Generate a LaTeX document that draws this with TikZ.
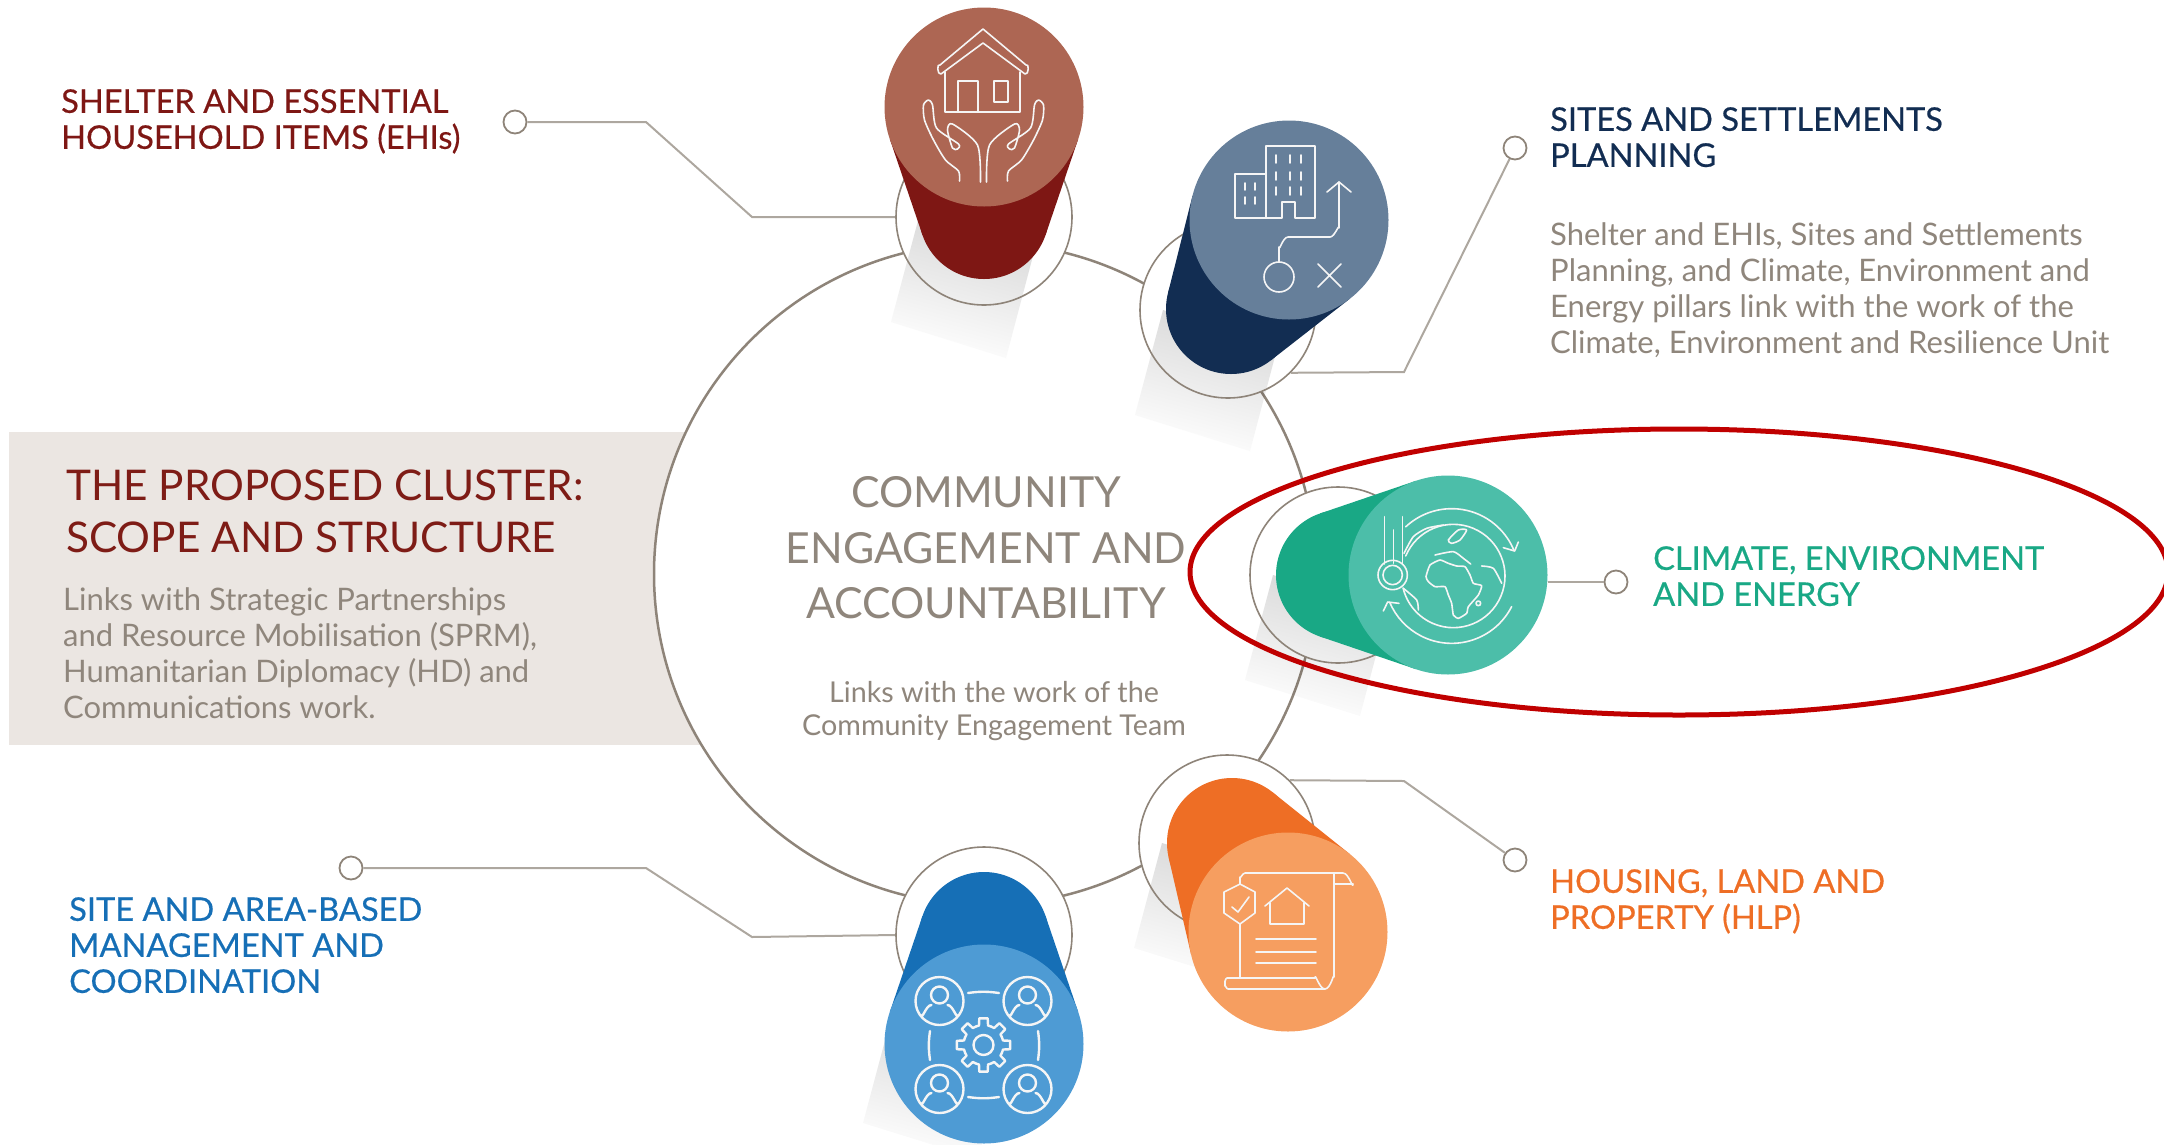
\documentclass[tikz,border=0pt]{standalone}
\usepackage{fontspec}
\setmainfont{Lato}
\newfontfamily\pillarfam[FakeBold=0.5]{Lato}
\usetikzlibrary{calc, positioning}
\definecolor{hubline}{HTML}{8E8479}
\definecolor{thinline}{HTML}{ADA79F}
\definecolor{greytext}{HTML}{8F867C}
\definecolor{boxfill}{HTML}{EBE6E2}
\definecolor{clusterred}{HTML}{7E1C16}
\definecolor{redline}{HTML}{C00000}
\definecolor{shelterdark}{HTML}{7E1714}
\definecolor{shelterlite}{HTML}{AD6653}
\definecolor{sitesdark}{HTML}{122D52}
\definecolor{siteslite}{HTML}{667F9A}
\definecolor{climatedark}{HTML}{19A885}
\definecolor{climatelite}{HTML}{4CBEA9}
\definecolor{housingdark}{HTML}{EE6E25}
\definecolor{housinglite}{HTML}{F69E60}
\definecolor{areadark}{HTML}{166FB6}
\definecolor{arealite}{HTML}{4E9BD4}
\newcommand{\hdfont}{\pillarfam\fontsize{32.6}{36}\selectfont}
\newcommand{\txfont}{\fontsize{31}{36}\selectfont}
\pgfdeclareverticalshading{shadowfade}{100bp}{color(0bp)=(white); color(24bp)=(white); color(70bp)=(black!14); color(100bp)=(black!14)}

\begin{document}
\begin{tikzpicture}[
    x=1pt, y=-1pt,
    node distance = 16pt and 16pt,
    ring/.style = {circle, draw=hubline, line width=1.6pt, minimum size=176pt, inner sep=0pt},
    head/.style = {circle, minimum size=199pt, inner sep=0pt},
    dotend/.style = {circle, draw=hubline, line width=1.8pt, fill=white, minimum size=23pt, inner sep=0pt},
    pil/.style = {draw=thinline, line width=2pt},
    pillar/.style = {inner sep=0pt, anchor=north west, align=left, font=\hdfont},
    note/.style = {inner sep=0pt, align=left, text=greytext, font=\txfont},
    ico/.style = {draw=white!92!gray, line width=1.6pt, line cap=round, line join=round}
    ]

  \useasboundingbox (0,0) rectangle (2164,1144);

  % box and hub
  \fill[boxfill] (9,432) rectangle (720,745);
  \node[circle, draw=hubline, fill=white, line width=2.5pt, minimum size=662pt, inner sep=0pt] (hub) at (985,574) {};

  % rings, shadows, tails, heads
  \foreach \name/\rx/\ry/\tx/\ty/\hx/\hy/\sx/\sy in {
      shelter/984/217/984/214/984/107/0/0,
      sites/1228/310/1231/309/1289/220/0/0,
      climate/1338/575/1341/575/1448/575/0/0,
      housing/1227/843/1232/843/1288/932/0/0,
      area/984/935/984/937/984/1044/-28/83} {
    \fill[white] (\rx,\ry) circle (88);
    \shade[shading=shadowfade, shading angle=-15, blend mode=multiply]
      ($(\rx,\ry)+(\sx,\sy)+(-65,0)$) -- ++(-28,105) -- ++(115,36) -- ++(28,-106) -- cycle;
    \node[ring] (ring\name) at (\rx,\ry) {};
    \pgfmathsetmacro\dist{veclen(\tx-\hx,\ty-\hy)}
    \pgfmathsetmacro\axis{atan2(\ty-\hy,\tx-\hx)}
    \pgfmathsetmacro\open{acos(34.5/\dist)}
    \fill[\name dark] ($(\hx,\hy)+(\axis+\open:99.5)$) -- ($(\tx,\ty)+(\axis+\open:65)$)
      -- ($(\tx,\ty)+(\axis-\open:65)$) -- ($(\hx,\hy)+(\axis-\open:99.5)$) -- cycle;
    \fill[\name dark] (\tx,\ty) circle (65);
    \node[head, fill=\name lite] (head\name) at (\hx,\hy) {};
  }

  % end points and connectors
  \node[dotend] (dotshelter) at (515,122) {};
  \node[dotend] (dotsites) at (1515,148) {};
  \node[dotend] (dotclimate) at (1616,582) {};
  \node[dotend] (dothousing) at (1515,860) {};
  \node[dotend] (dotarea) at (351,868) {};

  \coordinate (shelterbendA) at (646,122);
  \coordinate (shelterbendB) at (752,217);
  \coordinate (sitesbend) at (1404,372);
  \coordinate (housingbend) at (1404,781);
  \coordinate (areabendA) at (646,868);
  \coordinate (areabendB) at (752,937);

  \draw[pil] (dotshelter) -- (shelterbendA) -- (shelterbendB) -- (ringshelter.west);
  \draw[pil] (dotsites) -- (sitesbend) -- (ringsites.-45);
  \draw[pil] (dotclimate) -- (dotclimate -| headclimate.east);
  \draw[pil] (dothousing) -- (housingbend) -- (ringhousing.45);
  \draw[pil] (dotarea) -- (areabendA) -- (areabendB) -- (ringarea.west);

  % texts
  \node[inner sep=0pt, align=left, text=clusterred, font=\fontsize{42.3}{52}\selectfont, anchor=north west] (cluster) at (66,470) {THE PROPOSED CLUSTER:\\SCOPE AND STRUCTURE};
  \node[note, anchor=north west] (clusternote) at (63,587) {Links with Strategic Partnerships\\and Resource Mobilisation (SPRM),\\Humanitarian Diplomacy (HD) and\\Communications work.};

  \node[inner sep=0pt, align=center, text=greytext, font=\fontsize{42.8}{55.5}\selectfont] (hubtitle) at (986,548) {COMMUNITY\\ENGAGEMENT AND\\ACCOUNTABILITY};
  \node[inner sep=0pt, align=center, text=greytext, font=\fontsize{28.7}{33}\selectfont] (hubnote) at (994,711) {Links with the work of the\\Community Engagement Team};

  \node[pillar, text=shelterdark] (shelter) at (61,89) {SHELTER AND ESSENTIAL\\HOUSEHOLD ITEMS (EHIs)};
  \node[pillar, text=sitesdark] (sites) at (1550,107) {SITES AND SETTLEMENTS\\PLANNING};
  \node[note, below=55pt of sites.south west, anchor=north west] (sitesnote) {Shelter and EHIs, Sites and Settlements\\Planning, and Climate, Environment and\\Energy pillars link with the work of the\\Climate, Environment and Resilience Unit};
  \node[pillar, text=climatedark] (climate) at (1653,546) {CLIMATE, ENVIRONMENT\\AND ENERGY};
  \node[pillar, text=housingdark] (housing) at (1550,869) {HOUSING, LAND AND\\PROPERTY (HLP)};
  \node[pillar, text=areadark] (area) at (69,897) {SITE AND AREA-BASED\\MANAGEMENT AND\\COORDINATION};

  % house in hands
  \draw[ico] (945,72) -- (945,112) -- (1020,112) -- (1020,72);
  \draw[ico] (958,112) -- (958,81) -- (978,81) -- (978,112);
  \draw[ico] (994,81) rectangle (1008,102);
  \draw[ico] (941,74) -- (983,43) -- (1025,74) to[out=-20,in=40,looseness=1.2] (1026,65) -- (983,29) -- (940,65) to[out=140,in=200,looseness=1.2] cycle;
  \foreach \s in {1,-1} {
    \begin{scope}[shift={(983.5,0)}, xscale=\s]
      \draw[ico] plot[smooth, tension=.45] coordinates {(-24,181) (-25,171) (-38,160) (-50,140) (-59,120) (-60,105) (-55,100) (-51,105) (-47,128) (-25,144) (-26,149) (-31,148) (-36,130) (-31,124) (-6,145) (-3,182)};
    \end{scope}
  }

  % buildings and route
  \draw[ico] (1282,218) -- (1266,218) -- (1266,146) -- (1315,146) -- (1315,218) -- (1295,218) -- (1295,202) -- (1282,202) -- cycle;
  \draw[ico] (1266,174) -- (1235,174) -- (1235,218) -- (1266,218);
  \foreach \wx in {1276,1290,1301} {
    \foreach \wy in {155,172,187} {
      \draw[ico] (\wx,\wy) -- ++(0,8);
    }
  }
  \foreach \wx in {1245,1255} {
    \foreach \wy in {183,197} {
      \draw[ico] (\wx,\wy) -- ++(0,7);
    }
  }
  \draw[ico] (1279,277) circle (15);
  \draw[ico] (1279,262) -- (1279,247) to[out=-90,in=180] (1288,237) -- (1330,237) to[out=0,in=90] (1339,228) -- (1339,182);
  \draw[ico] (1327,192) -- (1339,182) -- (1351,192);
  \draw[ico] (1318,264) -- (1341,287) (1341,264) -- (1318,287);

  % globe, thermometer
  \begin{scope}[shift={(1200,440)}, x=1pt/3, y=-1pt/3]
    \draw[ico] (760,408) ++(202.8:155) arc[start angle=202.8, end angle=526.6, radius=155];
    \draw[ico] (755,408) ++(227:202) arc[start angle=227, end angle=338, radius=202];
    \draw[ico] (910,323) -- (944,333) -- (955,306);
    \draw[ico] (755,408) ++(27:202) arc[start angle=27, end angle=157, radius=202];
    \draw[ico] (597,490) -- (563,486) -- (550,513);
    \draw[ico] (553,230) -- (553,372) (607,230) -- (607,372) (580,270) -- (580,370);
    \draw[ico] (578,405) circle (44) (578,405) circle (29);
    \draw[ico] plot[smooth cycle, tension=.3] coordinates {(678,410) (690,375) (720,360) (745,370) (770,378) (795,380) (810,405) (820,430) (845,437) (835,465) (805,500) (800,520) (775,535) (760,525) (755,490) (745,465) (735,440) (705,440) (685,425)};
    \draw[ico] plot[smooth, tension=.4] coordinates {(705,345) (760,335) (790,355) (812,372)};
    \draw[ico] plot[smooth, tension=.4] coordinates {(845,378) (880,385) (905,430)};
    \draw[ico] plot[smooth, tension=.4] coordinates {(612,340) (640,290) (680,265) (730,255)};
    \draw[ico] plot[smooth cycle, tension=.4] coordinates {(745,300) (775,270) (800,270) (780,300) (755,310)};
    \draw[ico] plot[smooth, tension=.4] coordinates {(610,445) (650,480) (655,510)};
    \draw[ico] (835,490) circle (7);
  \end{scope}

  % deed with house and shield
  \draw[ico] (1240,884) -- (1240,877) to[out=-90,in=180] (1245,873) -- (1343,873) to[out=0,in=-90] (1353,884) -- (1334,884) -- (1334,873);
  \draw[ico] (1334,884) -- (1334,977) to[out=90,in=0] (1325,989) to[out=180,in=90] (1315,978) -- (1227,978) to[out=180,in=-90] (1225,981) -- (1225,986) to[out=90,in=180] (1228,989) -- (1325,989);
  \draw[ico] (1240,924) -- (1240,978);
  \draw[ico] (1240,884) -- (1255,892) -- (1255,913) -- (1240,924) -- (1224,913) -- (1224,892) -- cycle;
  \draw[ico] (1232,907) -- (1238,912) -- (1249,897);
  \draw[ico] (1265,906) -- (1287,888) -- (1309,906) (1270,903) -- (1270,924) -- (1304,924) -- (1304,903);
  \foreach \ly in {939,952,963} {
    \draw[ico] (1256,\ly) -- (1316,\ly);
  }

  % people around a gear
  \foreach \px/\py in {939.5/1001, 1027.5/1001, 939.5/1089, 1027.5/1089} {
    \draw[ico, line width=2.4pt] (\px,\py) circle (24);
    \draw[ico, line width=2.4pt] (\px,\py-6) circle (8.5);
    \draw[ico, line width=2.4pt] (\px-19,\py+14) to[out=-70,in=180] (\px-8,\py+4) (\px+8,\py+4) to[out=0,in=-110] (\px+19,\py+14);
  }
  \draw[ico, line width=2.4pt] (968,993) to[bend left=8] (999,993);
  \draw[ico, line width=2.4pt] (968,1097) to[bend right=8] (999,1097);
  \draw[ico, line width=2.4pt] (930,1031) to[bend right=8] (930,1060);
  \draw[ico, line width=2.4pt] (1038,1031) to[bend left=8] (1038,1060);
  \begin{scope}[shift={(983.5,1045)}]
    \foreach \a in {0,45,...,315} {
      \draw[ico, line width=2.4pt] (\a-22.5:20) -- (\a-13:20) -- (\a-9:27) -- (\a+9:27) -- (\a+13:20) -- (\a+22.5:20);
    }
    \draw[ico, line width=2.4pt] (0,0) circle (10);
  \end{scope}

  % highlight
  \draw[redline, line width=5pt] (1679,572) ellipse [x radius=489, y radius=143];

\end{tikzpicture}
\end{document}
